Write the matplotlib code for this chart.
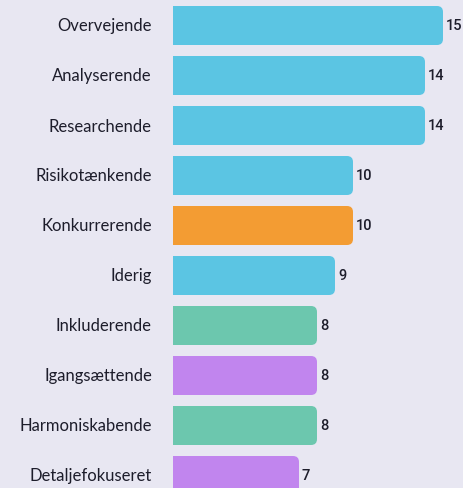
import matplotlib
matplotlib.use("Agg")
import matplotlib.pyplot as plt
from matplotlib.patches import FancyBboxPatch, Rectangle

labels = ["Overvejende", "Analyserende", "Researchende", "Risikotænkende", "Konkurrerende",
          "Iderig", "Inkluderende", "Igangsættende", "Harmoniskabende", "Detaljefokuseret"]
values = [15, 14, 14, 10, 10, 9, 8, 8, 8, 7]
groups = ["blue", "blue", "blue", "blue", "orange", "blue", "green", "purple", "green", "purple"]

palette = {"blue": "#5bc5e3", "orange": "#f39c33", "green": "#6cc7ae", "purple": "#c185ee"}
bg = "#e8e7f2"

W, H = 464, 489
px_x = 18.0   # pixels per value unit
px_y = 50.0   # pixels per row
x0 = 173      # pixel where bars start
y0 = 26.5     # pixel center of first row

fig = plt.figure(figsize=(W / 100, H / 100), dpi=100, facecolor=bg)
ax = fig.add_axes([0, 0, 1, 1])
ax.set_facecolor(bg)
ax.set_xlim(-x0 / px_x, (W - x0) / px_x)
ax.set_ylim((H - y0) / px_y, -y0 / px_y)
ax.axis("off")

bar_h = 39 / px_y
rad = 6 / px_x
aspect = (1 / px_y) / (1 / px_x)

for i, (lab, v, g) in enumerate(zip(labels, values, groups)):
    c = palette[g]
    top = i - bar_h / 2
    ax.add_patch(FancyBboxPatch((0, top), v, bar_h,
                                boxstyle=f"round,pad=0,rounding_size={rad}",
                                mutation_aspect=aspect, fc=c, ec="none"))
    # square off the left corners
    ax.add_patch(Rectangle((0, top), v / 2, bar_h, fc=c, ec="none"))
    ax.text(-21 / px_x, i, lab, ha="right", va="center", fontsize=12,
            family="Lato", color="#1d1d2b")
    ax.text(v + 3 / px_x, i, str(v), ha="left", va="center", fontsize=10.5,
            family="Roboto", weight="medium", color="#1d1d2b")

fig.savefig("out.png", dpi=100, facecolor=bg)
